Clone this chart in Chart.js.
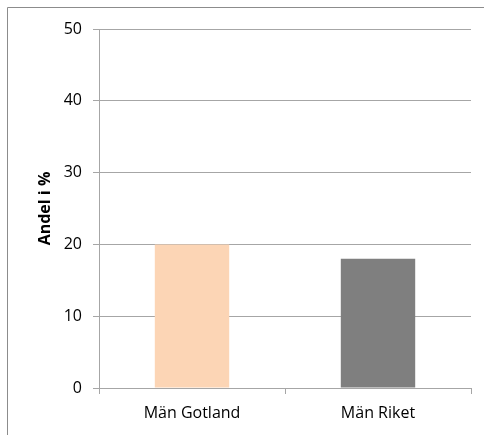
<!DOCTYPE html>
<html>
<head>
<meta charset="utf-8">
<script src="https://cdn.jsdelivr.net/npm/chart.js@4"></script>
<style>
  html, body { margin: 0; padding: 0; background: #fff; }
  #wrap { width: 484px; height: 435px; }
</style>
</head>
<body>
<div id="wrap"><canvas id="chart" width="484" height="435"></canvas></div>
<script>
// Data
const categories = ["Män Gotland", "Män Riket"];
const values = [20, 18];
const barColors = ["#FCD5B5", "#7F7F7F"];
const yTicks = [0, 10, 20, 30, 40, 50];

const gridColor = "#A6A6A6";
const fontFamily = "'Open Sans', sans-serif";

// Frame around the chart (only top and left are visible in the picture)
const framePlugin = {
    id: "frame",
    beforeDraw(chart) {
        const ctx = chart.ctx;
        ctx.save();
        ctx.strokeStyle = "#8C8C8C";
        ctx.lineWidth = 1;
        ctx.beginPath();
        ctx.moveTo(7.5, 435);
        ctx.lineTo(7.5, 7.5);
        ctx.lineTo(484, 7.5);
        ctx.stroke();
        ctx.restore();
    }
};

const ctx = document.getElementById("chart");
new Chart(ctx, {
    type: "bar",
    data: {
        labels: categories,
        datasets: [{
            data: values,
            backgroundColor: barColors,
            borderWidth: 0,
            barPercentage: 0.4,
            categoryPercentage: 1.0
        }]
    },
    options: {
        responsive: false,
        animation: false,
        devicePixelRatio: 1,
        layout: { padding: { left: 0, top: 29, right: 13, bottom: 0 } },
        plugins: {
            legend: { display: false },
            tooltip: { enabled: false }
        },
        scales: {
            x: {
                offset: true,
                grid: {
                    offset: true,
                    drawOnChartArea: false,
                    drawTicks: true,
                    tickLength: 6,
                    color: gridColor
                },
                border: { color: gridColor },
                ticks: {
                    color: "#000",
                    padding: 10,
                    font: { family: fontFamily, size: 16 }
                },
                afterFit: s => { s.height = 47; }
            },
            y: {
                min: 0,
                max: 50,
                afterBuildTicks: s => { s.ticks = yTicks.map(v => ({ value: v })); },
                grid: {
                    color: gridColor,
                    tickLength: 6
                },
                border: { color: gridColor },
                ticks: {
                    color: "#000",
                    padding: 11,
                    font: { family: fontFamily, size: 16 }
                },
                title: {
                    display: true,
                    text: "Andel i %",
                    color: "#000",
                    padding: { top: 36, bottom: 0 },
                    font: { family: fontFamily, size: 16, weight: "bold" }
                },
                afterFit: s => { s.width = 99; }
            }
        }
    },
    plugins: [framePlugin]
});
</script>
</body>
</html>
